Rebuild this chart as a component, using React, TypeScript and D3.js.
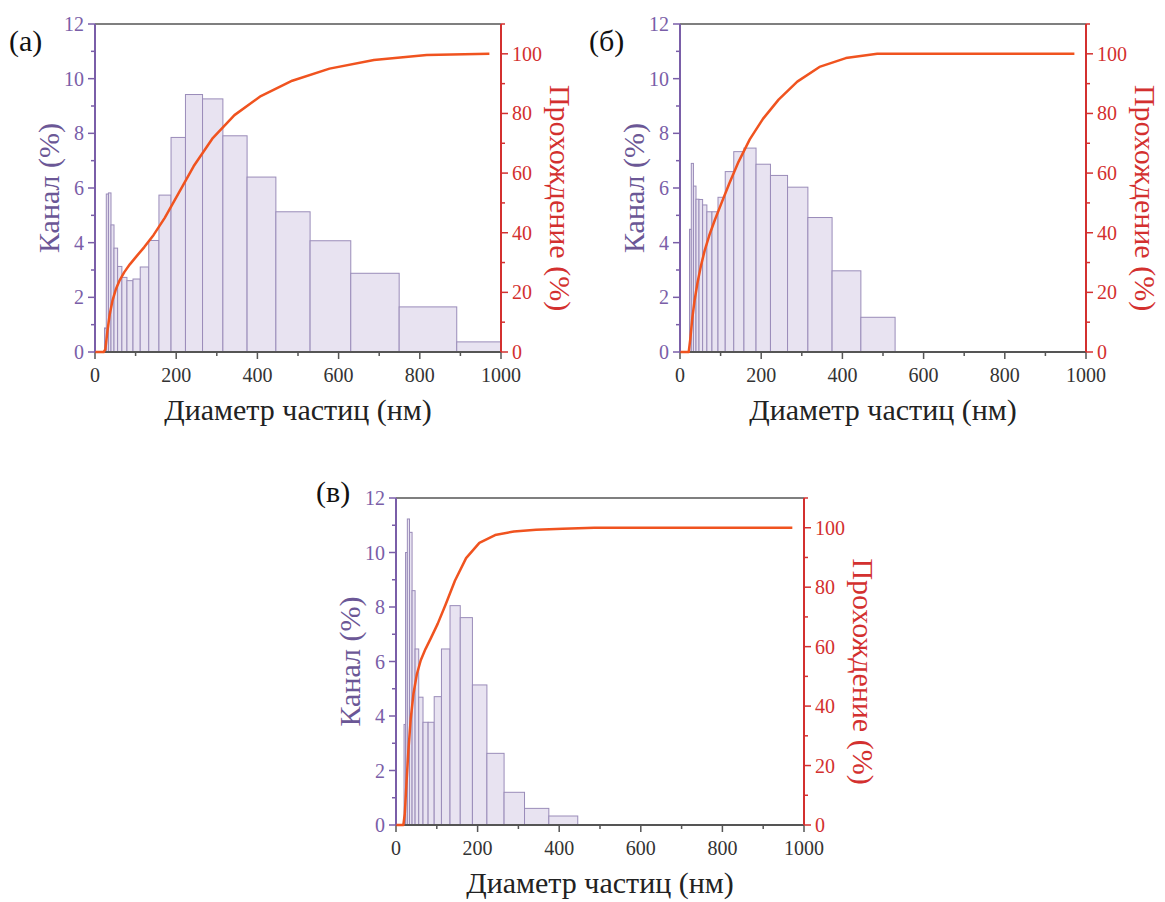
import React from 'react';
import * as d3 from 'd3';

// Channel bin edges (nm)
const binEdges = [19.7, 23.4, 27.8, 33.1, 39.4, 46.8, 55.7, 66.2, 78.7, 93.6, 111.4, 132.4, 157.5, 187.3, 222.8, 264.9, 315.0, 374.6, 445.5, 529.8, 630.0, 749.2, 891.0, 1059.0];

// Channel (%) per bin
const channelA = [0, 0.88, 5.78, 5.82, 4.65, 3.8, 3.13, 2.73, 2.61, 2.67, 3.11, 4.08, 5.74, 7.85, 9.42, 9.26, 7.91, 6.4, 5.13, 4.07, 2.88, 1.65, 0.37];
const channelB = [0, 4.49, 6.9, 6.07, 5.59, 5.58, 5.38, 5.13, 5.13, 5.66, 6.6, 7.33, 7.46, 6.87, 6.46, 6.03, 4.92, 2.97, 1.27, 0, 0, 0, 0];
const channelC = [3.69, 10.0, 11.23, 10.74, 8.6, 6.46, 4.69, 3.77, 3.77, 4.71, 6.46, 8.05, 7.61, 5.14, 2.63, 1.2, 0.61, 0.33, 0, 0, 0, 0, 0];

// Passing (%) curve points (x at channel centres, nm)
const passX = [1, 18.1, 21.5, 25.5, 30.3, 36.1, 42.9, 51.1, 60.7, 72.2, 85.8, 102.1, 121.4, 144.4, 171.8, 204.3, 242.9, 288.9, 343.5, 408.5, 485.8, 577.7, 687.0, 817.0, 971.4];
const passA = [0, 0, 0, 0.88, 6.66, 12.48, 17.13, 20.93, 24.06, 26.79, 29.4, 32.07, 35.18, 39.26, 45.0, 52.85, 62.27, 71.53, 79.44, 85.84, 90.97, 95.04, 97.92, 99.57, 100];
const passB = [0, 0, 0, 4.49, 11.39, 17.46, 23.05, 28.63, 34.01, 39.14, 44.27, 49.93, 56.53, 63.86, 71.32, 78.19, 84.65, 90.68, 95.6, 98.57, 100, 100, 100, 100, 100];
const passC = [0, 0, 3.69, 13.69, 24.92, 35.66, 44.26, 50.72, 55.41, 59.18, 62.95, 67.66, 74.12, 82.17, 89.78, 94.92, 97.55, 98.75, 99.36, 99.69, 100, 100, 100, 100, 100];

const xTicks = [0, 200, 400, 600, 800, 1000];
const xMinor = [100, 300, 500, 700, 900];
const leftTicks = [0, 2, 4, 6, 8, 10, 12];
const leftMinor = [1, 3, 5, 7, 9, 11];
const rightTicks = [0, 20, 40, 60, 80, 100];
const rightMinor = [10, 30, 50, 70, 90, 110];

const panelLabels = ['(а)', '(б)', '(в)'];
const xTitle = 'Диаметр частиц (нм)';
const leftTitle = 'Канал (%)';
const rightTitle = 'Прохождение (%)';

const FONT = "'Liberation Serif', Tinos, 'Times New Roman', Times, 'DejaVu Serif', serif";
const C_BAR = '#e8e3f1';
const C_BAR_STROKE = '#9a8cb9';
const C_LINE = '#f0531f';
const C_LEFT = '#7a5ea8';
const C_LEFT_TITLE = '#6b5796';
const C_RIGHT = '#d3302f';
const C_AXIS = '#555555';

type PanelProps = {
  id: string;
  left: number; top: number; width: number; height: number;
  channel: number[]; pass: number[];
  label: string; labelX: number; labelY: number;
};

function Panel({ id, left, top, width, height, channel, pass, label, labelX, labelY }: PanelProps) {
  const bottom = top + height;
  const right = left + width;
  const x = d3.scaleLinear().domain([0, 1000]).range([left, right]);
  const yL = d3.scaleLinear().domain([0, 12]).range([bottom, top]);
  const yR = d3.scaleLinear().domain([0, 110]).range([bottom, top]);
  const line = d3.line<number>().x((_, i) => x(passX[i])).y((d) => yR(d));
  const cx = (left + right) / 2;
  const cy = (top + bottom) / 2;

  return (
    <g>
      <defs>
        <clipPath id={`clip-${id}`}>
          <rect x={left} y={top - 2} width={width} height={height + 4} />
        </clipPath>
      </defs>
      <g clipPath={`url(#clip-${id})`}>
        {channel.map((v, i) =>
          v > 0 ? (
            <rect
              key={i}
              x={x(binEdges[i])}
              y={yL(v)}
              width={x(binEdges[i + 1]) - x(binEdges[i])}
              height={bottom - yL(v)}
              fill={C_BAR}
              stroke={C_BAR_STROKE}
              strokeWidth={1}
            />
          ) : null
        )}
      </g>
      <line x1={left} x2={right} y1={top} y2={top} stroke={C_AXIS} strokeWidth={1.5} />
      <line x1={left} x2={right} y1={bottom} y2={bottom} stroke={C_AXIS} strokeWidth={2} />
      {xTicks.map((t) => (
        <g key={`xt${t}`}>
          <line x1={x(t)} x2={x(t)} y1={bottom} y2={bottom + 7} stroke={C_AXIS} strokeWidth={1.5} />
          <text x={x(t)} y={bottom + 30} textAnchor="middle" fontFamily={FONT} fontSize={20} fill="#333">{t}</text>
        </g>
      ))}
      {xMinor.map((t) => (
        <line key={`xm${t}`} x1={x(t)} x2={x(t)} y1={bottom} y2={bottom + 4} stroke={C_AXIS} strokeWidth={1.5} />
      ))}
      <text x={cx} y={bottom + 68} textAnchor="middle" fontFamily={FONT} fontSize={30} fill="#222">{xTitle}</text>
      <line x1={left} x2={left} y1={top} y2={bottom} stroke={C_LEFT} strokeWidth={2} />
      {leftTicks.map((t) => (
        <g key={`lt${t}`}>
          <line x1={left - 7} x2={left} y1={yL(t)} y2={yL(t)} stroke={C_LEFT} strokeWidth={1.5} />
          <text x={left - 11} y={yL(t)} dy="0.35em" textAnchor="end" fontFamily={FONT} fontSize={20} fill={C_LEFT}>{t}</text>
        </g>
      ))}
      {leftMinor.map((t) => (
        <line key={`lm${t}`} x1={left - 4} x2={left} y1={yL(t)} y2={yL(t)} stroke={C_LEFT} strokeWidth={1.5} />
      ))}
      <text transform={`translate(${left - 47},${cy}) rotate(-90)`} dy="0.35em" textAnchor="middle" fontFamily={FONT} fontSize={30} fill={C_LEFT_TITLE}>{leftTitle}</text>
      <line x1={right} x2={right} y1={top} y2={bottom} stroke={C_RIGHT} strokeWidth={2} />
      {rightTicks.map((t) => (
        <g key={`rt${t}`}>
          <line x1={right} x2={right + 7} y1={yR(t)} y2={yR(t)} stroke={C_RIGHT} strokeWidth={1.5} />
          <text x={right + 11} y={yR(t)} dy="0.35em" textAnchor="start" fontFamily={FONT} fontSize={20} fill={C_RIGHT}>{t}</text>
        </g>
      ))}
      {rightMinor.map((t) => (
        <line key={`rm${t}`} x1={right} x2={right + 4} y1={yR(t)} y2={yR(t)} stroke={C_RIGHT} strokeWidth={1.5} />
      ))}
      <text transform={`translate(${right + 59},${cy + 10}) rotate(90)`} dy="0.35em" textAnchor="middle" fontFamily={FONT} fontSize={30} fill={C_RIGHT}>{rightTitle}</text>
      <path d={line(pass) || ''} fill="none" stroke={C_LINE} strokeWidth={2.5} strokeLinejoin="round" />
      <text x={labelX} y={labelY} fontFamily={FONT} fontSize={30} fill="#111">{label}</text>
    </g>
  );
}

export default function App() {
  return (
    <svg width={1165} height={902} style={{ display: 'block', position: 'absolute', left: 0, top: 0, background: '#fff' }}>
      <rect width={1165} height={902} fill="#fff" />
      <Panel id="a" left={95} top={24} width={406} height={328} channel={channelA} pass={passA} label={panelLabels[0]} labelX={9} labelY={51} />
      <Panel id="b" left={680} top={24} width={406} height={328} channel={channelB} pass={passB} label={panelLabels[1]} labelX={589} labelY={51} />
      <Panel id="c" left={396} top={498} width={408} height={327} channel={channelC} pass={passC} label={panelLabels[2]} labelX={316} labelY={502} />
    </svg>
  );
}
